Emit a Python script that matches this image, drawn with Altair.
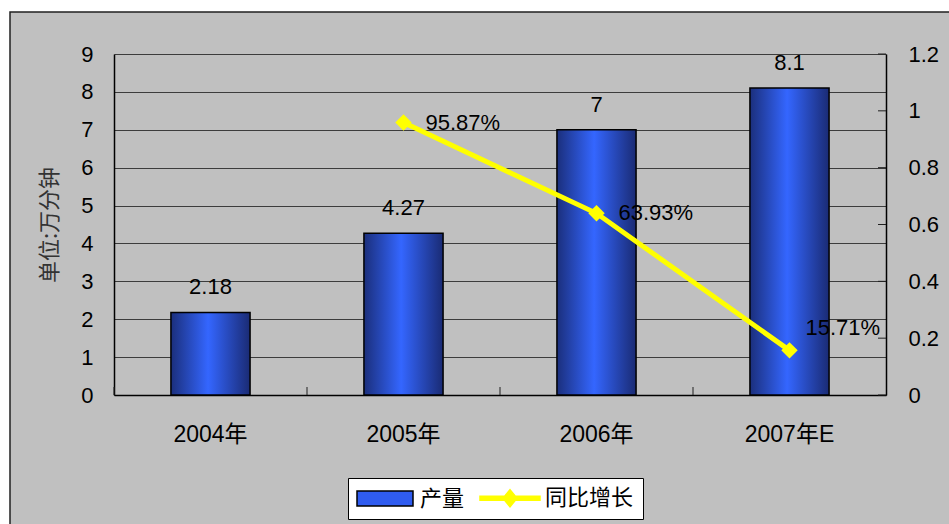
import altair as alt
import pandas as pd

# ---- data ----
categories = ["2004年", "2005年", "2006年", "2007年E"]
output_values = [2.18, 4.27, 7, 8.1]          # 产量 (万分钟)
growth_values = [None, 0.9587, 0.6393, 0.1571]  # 同比增长
growth_labels = ["", "95.87%", "63.93%", "15.71%"]
left_ticks = [0, 1, 2, 3, 4, 5, 6, 7, 8, 9]
right_ticks = [0, 0.2, 0.4, 0.6, 0.8, 1.0, 1.2]
series_names = ["产量", "同比增长"]

bars_df = pd.DataFrame({"cat": categories, "val": output_values,
                        "lbl": [f"{v:g}" for v in output_values]})
line_df = pd.DataFrame({"cat": categories[1:], "g": growth_values[1:],
                        "lbl": growth_labels[1:]})
rtick_df = pd.DataFrame({"t": right_ticks})
legend_df = pd.DataFrame({"series": series_names})

W, H = 772, 341
NUM_FONT = "Liberation Sans, Arial, Noto Sans CJK SC"
CJK_FONT = "Noto Sans CJK SC"
FS = 22

xenc = alt.X("cat:N", sort=categories, title=None,
             scale=alt.Scale(paddingInner=0, paddingOuter=0),
             axis=alt.Axis(domainColor="black", domainWidth=1.5, ticks=False,
                           labelFont=NUM_FONT, labelFontSize=23, labelColor="black",
                           labelPadding=28, labelAngle=0, labelOverlap=False))

yleft = alt.Y("val:Q", title="单位:万分钟",
              scale=alt.Scale(domain=[0, 9], nice=False),
              axis=alt.Axis(values=left_ticks, tickCount=10, grid=True,
                            gridColor="#3c3c3c", gridWidth=1,
                            domainColor="black", domainWidth=1.5,
                            ticks=False, labelFont=NUM_FONT, labelFontSize=FS,
                            labelColor="black", labelPadding=21, labelOverlap=False,
                            titleFont=CJK_FONT, titleFontSize=22,
                            titleFontWeight="normal", titleColor="#333333",
                            titlePadding=19))

gradient = alt.LinearGradient(
    gradient="linear", x1=0, x2=1, y1=0, y2=0,
    stops=[alt.GradientStop(color="#1b2f7c", offset=0),
           alt.GradientStop(color="#3466ff", offset=0.47),
           alt.GradientStop(color="#1a2b74", offset=1)])

# decorative outer frame: white page margin + dark border
margin = alt.Chart(alt.Data(values=[{"a": 1}])).mark_rect(
    fill="transparent", stroke="white", strokeWidth=22
).encode(x=alt.value(-115), x2=alt.value(W + 300),
         y=alt.value(-53), y2=alt.value(H + 300))
border = alt.Chart(alt.Data(values=[{"a": 1}])).mark_rect(
    fill="transparent", stroke="#202020", strokeWidth=1.5
).encode(x=alt.value(-104), x2=alt.value(W + 300),
         y=alt.value(-42), y2=alt.value(H + 300))

bars = alt.Chart().mark_bar(
    color=gradient, stroke="black", strokeWidth=1.5,
    width=alt.RelativeBandSize(0.41)
).encode(x=xenc)

bar_labels = alt.Chart().mark_text(
    font=NUM_FONT, fontSize=FS, color="black", baseline="middle", dy=-25
).encode(x=alt.X("cat:N", sort=categories), text="lbl:N")

cat_ticks = alt.Chart().mark_rule(color="#202020", strokeWidth=1).encode(
    x=alt.X("cat:N", sort=categories, bandPosition=0),
    y=alt.value(H), y2=alt.value(H - 8))

left_layer = alt.layer(bars, bar_labels, cat_ticks, data=bars_df).encode(y=yleft)

yright = alt.Y("g:Q", title=None, scale=alt.Scale(domain=[0, 1.2], nice=False),
               axis=alt.Axis(orient="right", values=right_ticks, format="~g",
                             grid=False, domainColor="black", domainWidth=1.5,
                             ticks=False, labelFont=NUM_FONT, labelFontSize=FS,
                             labelColor="black", labelPadding=22,
                             labelOverlap=False))

legend = alt.Legend(
    title=None, orient="none", legendX=234, legendY=424, direction="horizontal",
    columns=2, symbolSize=400, symbolStrokeWidth=1.5, symbolOpacity=1,
    symbolOffset=17, labelOffset=24,
    labelFont=CJK_FONT, labelFontSize=22, labelColor="black",
    columnPadding=12, padding=9,
    fillColor="white", strokeColor="black")

line = alt.Chart(line_df).mark_line(strokeWidth=5, color="#ffff00").encode(
    x=alt.X("cat:N", sort=categories))

points = alt.Chart(line_df).mark_point(
    shape="diamond", filled=True, size=270, color="#ffff00", opacity=1
).encode(x=alt.X("cat:N", sort=categories))

glabels_a = alt.Chart(line_df).transform_filter("datum.cat !== '2007年E'").mark_text(
    font=NUM_FONT, fontSize=FS, color="black", align="left", baseline="middle", dx=22
).encode(x=alt.X("cat:N", sort=categories), text="lbl:N")

glabels_b = alt.Chart(line_df).transform_filter("datum.cat === '2007年E'").mark_text(
    font=NUM_FONT, fontSize=FS, color="black", align="left", baseline="middle",
    dx=16, dy=-22
).encode(x=alt.X("cat:N", sort=categories), text="lbl:N")

rticks = alt.Chart(rtick_df).transform_calculate(g="datum.t").mark_rule(
    color="#202020", strokeWidth=1
).encode(x=alt.value(W - 8), x2=alt.value(W))

legend_layer = alt.Chart(legend_df).transform_filter("false").mark_point(
    filled=True, opacity=1
).encode(
    color=alt.Color("series:N", scale=alt.Scale(domain=series_names,
                                                range=["#2f5cf0", "#ffff00"]),
                    legend=legend),
    stroke=alt.Stroke("series:N", scale=alt.Scale(domain=series_names,
                                                  range=["black", "#ffff00"]),
                      legend=legend),
    shape=alt.Shape("series:N", scale=alt.Scale(
        domain=series_names,
        range=["M-2.8,-0.75H2.8V0.75H-2.8Z",
               "M-3,-0.2H3V0.2H-3Z M0,-0.85L0.7,0L0,0.85L-0.7,0Z"]),
        legend=legend),
    y=alt.value(0))

right_layer = alt.layer(rticks, line, points, glabels_a, glabels_b).encode(y=yright)

chart = alt.layer(left_layer, right_layer, legend_layer, margin, border).resolve_scale(
    y="independent"
).properties(
    width=W, height=H,
    padding={"left": 114, "top": 54, "right": 949 - 114 - W, "bottom": 524 - 54 - H},
    autosize=alt.AutoSizeParams(type="none"),
    background="#c0c0c0"
).configure_view(stroke=None, fill="#c0c0c0")

chart.save("out.html", embed_options={"renderer": "svg", "actions": False})
